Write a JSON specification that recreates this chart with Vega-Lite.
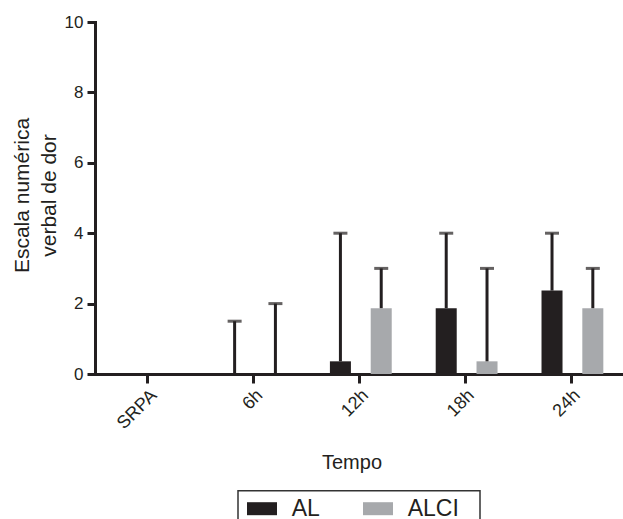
{
  "$schema": "https://vega.github.io/schema/vega-lite/v6.json",
  "width": 529,
  "height": 352,
  "autosize": {"type": "none"},
  "padding": {"left": 95, "top": 22, "right": 0, "bottom": 145},
  "background": "white",
  "config": {"view": {"stroke": null}, "font": "Liberation Sans"},
  "data": {
    "values": [
      {"time": "SRPA", "group": "AL", "mean": 0, "upper": 0},
      {"time": "SRPA", "group": "ALCI", "mean": 0, "upper": 0},
      {"time": "6h", "group": "AL", "mean": 0, "upper": 1.5},
      {"time": "6h", "group": "ALCI", "mean": 0, "upper": 2},
      {"time": "12h", "group": "AL", "mean": 0.36, "upper": 4},
      {"time": "12h", "group": "ALCI", "mean": 1.87, "upper": 3},
      {"time": "18h", "group": "AL", "mean": 1.87, "upper": 4},
      {"time": "18h", "group": "ALCI", "mean": 0.36, "upper": 3},
      {"time": "24h", "group": "AL", "mean": 2.37, "upper": 4},
      {"time": "24h", "group": "ALCI", "mean": 1.87, "upper": 3}
    ]
  },
  "encoding": {
    "x": {
      "field": "time",
      "type": "nominal",
      "sort": ["SRPA", "6h", "12h", "18h", "24h"],
      "scale": {"paddingInner": 0, "paddingOuter": 0},
      "axis": {
        "title": "Tempo",
        "titleFontSize": 20,
        "titleFontWeight": "normal",
        "titleColor": "#231f20",
        "titleX": 256.5,
        "titleY": 94,
        "titleBaseline": "alphabetic",
        "titleAlign": "center",
        "labelAngle": -45,
        "labelFontSize": 18,
        "labelColor": "#231f20",
        "labelPadding": 3,
        "domainColor": "#231f20",
        "domainWidth": 3,
        "domainCap": "square",
        "tickColor": "#231f20",
        "tickWidth": 3,
        "tickSize": 9,
        "grid": false
      }
    },
    "xOffset": {
      "field": "group",
      "type": "nominal",
      "scale": {"paddingInner": 0.485, "paddingOuter": 0.539, "align": 0.53}
    }
  },
  "layer": [
    {
      "mark": {"type": "bar"},
      "encoding": {
        "y": {
          "field": "mean",
          "type": "quantitative",
          "title": ["Escala numérica", "verbal de dor"],
          "scale": {"domain": [0, 10]},
          "axis": {
            "titleFontSize": 21,
            "titleFontWeight": "normal",
            "titleColor": "#231f20",
            "titleBaseline": "alphabetic",
            "titleLineHeight": 27,
            "titleX": -67,
            "titleY": 173,
            "values": [0, 2, 4, 6, 8, 10],
            "labelFontSize": 17,
            "labelColor": "#231f20",
            "labelPadding": 4,
            "domainColor": "#231f20",
            "domainWidth": 3,
            "domainCap": "square",
            "tickColor": "#231f20",
            "tickWidth": 3,
            "tickSize": 8,
            "grid": false
          }
        },
        "color": {
          "field": "group",
          "type": "nominal",
          "scale": {"domain": ["AL", "ALCI"], "range": ["#231f20", "#a7a9ac"]},
          "legend": {
            "title": "\u00a0",
            "titleOrient": "right",
            "titlePadding": 18,
            "titleFontSize": 20,
            "orient": "none",
            "legendX": 143,
            "legendY": 468.7,
            "direction": "horizontal",
            "strokeColor": "#333333",
            "padding": 3,
            "symbolOffset": 6,
            "symbolType": "M-1,-0.433H1V0.433H-1Z",
            "symbolSize": 900,
            "symbolStrokeWidth": 0,
            "labelFontSize": 23,
            "labelOffset": 14.7,
            "columnPadding": 37,
            "labelColor": "#231f20",
            "encode": {"legend": {"update": {"strokeWidth": {"value": 1.5}}}}
          }
        }
      }
    },
    {
      "transform": [{"filter": "datum.upper > 0"}],
      "mark": {"type": "rule", "strokeWidth": 3, "color": "#231f20"},
      "encoding": {
        "y": {"field": "mean", "type": "quantitative", "title": ["Escala numérica", "verbal de dor"]},
        "y2": {"field": "upper"}
      }
    },
    {
      "transform": [{"filter": "datum.upper > 0"}],
      "mark": {"type": "tick", "size": 14, "thickness": 3, "color": "#231f20"},
      "encoding": {
        "y": {"field": "upper", "type": "quantitative", "title": ["Escala numérica", "verbal de dor"]}
      }
    }
  ]
}
